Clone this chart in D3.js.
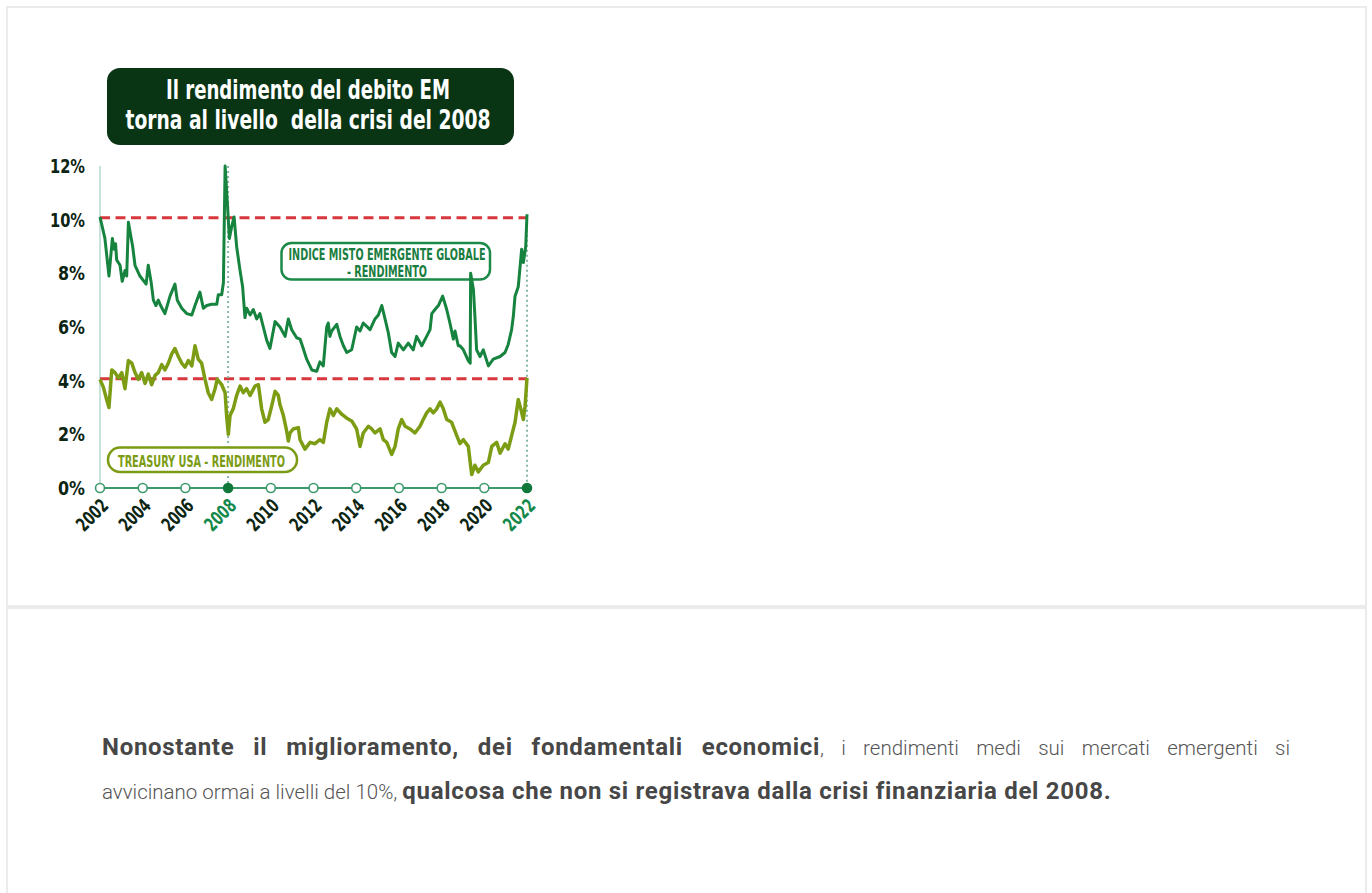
<!DOCTYPE html>
<html>
<head>
<meta charset="utf-8">
<script src="https://cdn.jsdelivr.net/npm/d3@7"></script>
<style>
  body { margin: 0; background: #fff; width: 1372px; height: 893px; overflow: hidden; position: relative; }
  #card { position: absolute; left: 6px; top: 6px; width: 1361px; height: 920px; border: 2px solid #ebebeb; border-bottom: none; box-sizing: border-box; }
  #sep { position: absolute; left: 8px; top: 605px; width: 1357px; height: 4px; background: #ebebeb; }
  .riga { position: absolute; left: 102px; font-family: Roboto, sans-serif; font-size: 20.5px; line-height: 44px; color: #555; font-weight: 300; }
  #riga1 { top: 725px; width: 1188px; text-align: justify; text-align-last: justify; }
  #riga2 { top: 769px; white-space: nowrap; }
  .riga b { font-weight: 700; font-size: 24px; letter-spacing: 0.7px; color: #474747; }
  svg { position: absolute; left: 0; top: 0; }
</style>
</head>
<body>
<div id="card"></div>
<div id="sep"></div>
<div class="riga" id="riga1"><b>Nonostante il miglioramento, dei fondamentali economici</b>, i rendimenti medi sui mercati emergenti si</div>
<div class="riga" id="riga2">avvicinano ormai a livelli del 10%, <b>qualcosa che non si registrava dalla crisi finanziaria del 2008.</b></div>
<script>
// dati
const titolo = ["Il rendimento del debito EM", "torna al livello  della crisi del 2008"];
const anni = [2002, 2004, 2006, 2008, 2010, 2012, 2014, 2016, 2018, 2020, 2022];
const anniEvidenziati = [2008, 2022];
const tickY = [0, 2, 4, 6, 8, 10, 12];
const livelliRif = [10, 4];
const etichettaEM = ["INDICE MISTO EMERGENTE GLOBALE", "- RENDIMENTO"];
const etichettaUS = "TREASURY USA - RENDIMENTO";

// indice misto emergente globale - rendimento (%)
const rendEM = [[2002.00,10.1],[2002.23,9.3],[2002.42,7.9],[2002.50,8.6],[2002.58,9.3],[2002.66,8.9],[2002.73,9.1],[2002.78,8.5],[2002.94,8.3],[2003.04,7.7],[2003.17,8.1],[2003.25,7.9],[2003.33,9.9],[2003.44,9.4],[2003.53,9.0],[2003.64,8.3],[2003.87,7.9],[2004.16,7.6],[2004.26,8.3],[2004.39,7.7],[2004.50,7.0],[2004.62,6.8],[2004.73,7.0],[2004.84,6.8],[2005.04,6.5],[2005.28,7.15],[2005.51,7.6],[2005.62,7.0],[2005.83,6.7],[2006.06,6.5],[2006.30,6.45],[2006.45,6.8],[2006.68,7.3],[2006.84,6.7],[2007.00,6.8],[2007.23,6.85],[2007.47,6.85],[2007.54,7.2],[2007.70,7.2],[2007.78,7.65],[2007.86,12.0],[2007.96,10.7],[2008.06,9.3],[2008.17,9.75],[2008.28,10.1],[2008.40,9.0],[2008.56,8.1],[2008.68,7.5],[2008.79,6.35],[2008.87,6.7],[2009.03,6.45],[2009.18,6.65],[2009.34,6.3],[2009.49,6.5],[2009.65,6.0],[2009.81,5.5],[2009.96,5.2],[2010.20,6.2],[2010.43,6.0],[2010.67,5.65],[2010.82,6.3],[2010.98,5.9],[2011.21,5.6],[2011.37,5.55],[2011.52,5.2],[2011.68,4.8],[2011.92,4.4],[2012.15,4.35],[2012.30,4.7],[2012.46,4.55],[2012.54,5.3],[2012.62,6.0],[2012.69,6.15],[2012.77,5.65],[2012.85,5.85],[2013.09,6.1],[2013.24,5.65],[2013.40,5.3],[2013.56,5.05],[2013.79,5.15],[2014.02,6.0],[2014.18,5.85],[2014.33,6.15],[2014.65,5.9],[2014.88,6.3],[2015.04,6.45],[2015.20,6.8],[2015.35,6.3],[2015.50,5.8],[2015.66,5.05],[2015.82,4.9],[2015.97,5.4],[2016.21,5.15],[2016.44,5.4],[2016.67,5.15],[2016.83,5.65],[2017.07,5.3],[2017.30,5.65],[2017.46,5.9],[2017.54,6.5],[2017.69,6.65],[2017.85,6.8],[2018.05,7.15],[2018.24,6.65],[2018.39,6.15],[2018.55,5.55],[2018.63,5.85],[2018.78,5.3],[2018.86,5.3],[2019.02,5.15],[2019.25,4.75],[2019.34,4.65],[2019.36,8.0],[2019.49,7.4],[2019.56,6.4],[2019.64,5.15],[2019.80,4.9],[2019.95,5.15],[2020.19,4.55],[2020.42,4.8],[2020.74,4.9],[2020.97,5.05],[2021.12,5.35],[2021.28,5.9],[2021.36,6.4],[2021.44,7.15],[2021.59,7.5],[2021.75,8.9],[2021.83,8.4],[2021.94,9.0],[2022.00,10.2]];

// treasury USA - rendimento (%)
const rendUS = [[2002.00,4.05],[2002.16,3.75],[2002.31,3.3],[2002.42,3.0],[2002.55,4.4],[2002.70,4.3],[2002.86,4.1],[2003.02,4.3],[2003.17,3.7],[2003.33,4.75],[2003.49,4.65],[2003.64,4.3],[2003.79,4.05],[2003.95,4.3],[2004.11,3.9],[2004.26,4.25],[2004.42,3.85],[2004.58,4.2],[2004.73,4.3],[2004.89,4.6],[2005.04,4.4],[2005.20,4.65],[2005.36,5.0],[2005.51,5.2],[2005.67,4.9],[2005.83,4.65],[2005.98,4.5],[2006.14,4.75],[2006.30,4.55],[2006.45,5.3],[2006.60,4.8],[2006.76,4.65],[2006.92,4.05],[2007.07,3.55],[2007.23,3.3],[2007.39,3.7],[2007.49,4.05],[2007.70,3.85],[2007.86,3.55],[2007.93,2.7],[2008.01,2.0],[2008.09,2.7],[2008.24,2.95],[2008.40,3.45],[2008.56,3.8],[2008.71,3.55],[2008.87,3.7],[2009.03,3.45],[2009.26,3.8],[2009.42,3.85],[2009.57,2.95],[2009.73,2.45],[2009.88,2.55],[2010.04,3.05],[2010.20,3.6],[2010.35,3.45],[2010.43,3.1],[2010.59,2.7],[2010.75,2.1],[2010.82,1.75],[2010.90,2.05],[2011.05,2.2],[2011.29,2.25],[2011.37,1.8],[2011.60,1.45],[2011.84,1.7],[2012.07,1.65],[2012.30,1.8],[2012.46,1.7],[2012.62,2.45],[2012.77,2.95],[2012.93,2.7],[2013.09,2.95],[2013.32,2.75],[2013.56,2.6],[2013.79,2.5],[2014.02,2.2],[2014.18,1.55],[2014.33,2.05],[2014.57,2.3],[2014.73,2.2],[2014.88,2.05],[2015.12,2.2],[2015.27,1.8],[2015.43,1.7],[2015.66,1.25],[2015.82,1.55],[2015.97,2.2],[2016.13,2.55],[2016.29,2.3],[2016.52,2.2],[2016.75,2.05],[2016.99,2.3],[2017.14,2.55],[2017.30,2.8],[2017.46,2.95],[2017.61,2.8],[2017.77,2.95],[2017.93,3.2],[2018.08,2.95],[2018.24,2.55],[2018.47,2.45],[2018.71,1.95],[2018.86,1.65],[2019.02,1.8],[2019.25,1.55],[2019.41,0.5],[2019.56,0.85],[2019.72,0.6],[2019.95,0.85],[2020.19,0.95],[2020.35,1.55],[2020.58,1.7],[2020.74,1.3],[2020.97,1.65],[2021.12,1.45],[2021.28,1.95],[2021.44,2.45],[2021.59,3.3],[2021.71,2.95],[2021.83,2.55],[2021.91,3.05],[2022.00,4.1]];

const fontNarrow = "'Liberation Sans Narrow','DejaVu Sans Condensed',sans-serif";

let svg = d3.select('body').append('svg')
    .attr('width', 1372)
    .attr('height', 893)

let x = d3.scaleLinear().domain([2002, 2022]).range([100, 527]);
let y = d3.scaleLinear().domain([0, 12]).range([488, 166]);

// box titolo
svg.append('rect')
    .attr('x', 107).attr('y', 68)
    .attr('width', 407).attr('height', 77)
    .attr('rx', 13)
    .attr('fill', '#0a3514')

let larghTitolo = [284, 365];
svg.selectAll('text.titolo')
    .data(titolo)
    .enter().append('text')
    .attr('class', 'titolo')
    .attr('x', 308)
    .attr('y', (d, i) => 99 + i * 30)
    .attr('text-anchor', 'middle')
    .attr('textLength', (d, i) => larghTitolo[i])
    .attr('lengthAdjust', 'spacingAndGlyphs')
    .attr('font-family', fontNarrow)
    .attr('font-weight', 'bold')
    .attr('font-size', 27)
    .attr('fill', '#fff')
    .attr('xml:space', 'preserve')
    .text(d => d)

// asse y
svg.append('line')
    .attr('x1', 100).attr('x2', 100)
    .attr('y1', y(12)).attr('y2', y(0))
    .attr('stroke', '#b5d8cf')
    .attr('stroke-width', 1.5)

let assey = svg.append('g')
    .attr('transform', 'translate(100,0)')
    .call(d3.axisLeft(y).tickValues(tickY).tickSize(0).tickPadding(15).tickFormat(d => d + '%'))
assey.select('.domain').remove()
assey.selectAll('text')
    .attr('textLength', d => d >= 10 ? 35 : 27)
    .attr('lengthAdjust', 'spacingAndGlyphs')
    .attr('font-family', fontNarrow)
    .attr('font-weight', 'bold')
    .attr('font-size', 20)
    .attr('fill', '#0c2412')

// linee tratteggiate rosse
svg.selectAll('line.rif')
    .data(livelliRif)
    .enter().append('line')
    .attr('class', 'rif')
    .attr('x1', x(2002)).attr('x2', x(2022))
    .attr('y1', d => y(d) - 2).attr('y2', d => y(d) - 2)
    .attr('stroke', '#d8383d')
    .attr('stroke-width', 3)
    .attr('stroke-dasharray', '10,5.5')

// linee verticali punteggiate
let verticali = [{ anno: 2008, top: 12 }, { anno: 2022, top: 10 }];
svg.selectAll('line.vert')
    .data(verticali)
    .enter().append('line')
    .attr('class', 'vert')
    .attr('x1', d => x(d.anno)).attr('x2', d => x(d.anno))
    .attr('y1', d => y(d.top)).attr('y2', y(0))
    .attr('stroke', '#8ab8a6')
    .attr('stroke-width', 2)
    .attr('stroke-dasharray', '2,3')

// etichette serie
svg.append('rect')
    .attr('x', 281.5).attr('y', 243)
    .attr('width', 208.5).attr('height', 36.5)
    .attr('rx', 10)
    .attr('fill', '#fff')
    .attr('stroke', '#1c8a48')
    .attr('stroke-width', 2.5)
let larghEM = [197, 80];
svg.selectAll('text.labEM')
    .data(etichettaEM)
    .enter().append('text')
    .attr('class', 'labEM')
    .attr('x', 387)
    .attr('y', (d, i) => 260 + i * 17)
    .attr('text-anchor', 'middle')
    .attr('textLength', (d, i) => larghEM[i])
    .attr('lengthAdjust', 'spacingAndGlyphs')
    .attr('font-family', fontNarrow)
    .attr('font-weight', 'bold')
    .attr('font-size', 16.5)
    .attr('fill', '#1a7d40')
    .text(d => d)

svg.append('rect')
    .attr('x', 108).attr('y', 447.5)
    .attr('width', 189).attr('height', 24.5)
    .attr('rx', 12)
    .attr('fill', '#fff')
    .attr('stroke', '#7b9b14')
    .attr('stroke-width', 2.5)
svg.append('text')
    .attr('x', 201.5).attr('y', 466.5)
    .attr('text-anchor', 'middle')
    .attr('textLength', 167)
    .attr('lengthAdjust', 'spacingAndGlyphs')
    .attr('font-family', fontNarrow)
    .attr('font-weight', 'bold')
    .attr('font-size', 16.5)
    .attr('fill', '#7b9b14')
    .text(etichettaUS)

// linee dati
let linea = d3.line()
    .x(d => x(d[0]))
    .y(d => y(d[1]))

svg.append('path')
    .datum(rendUS)
    .attr('d', linea)
    .attr('fill', 'none')
    .attr('stroke', '#7c9c14')
    .attr('stroke-width', 3.5)
    .attr('stroke-linejoin', 'round')

svg.append('path')
    .datum(rendEM)
    .attr('d', linea)
    .attr('fill', 'none')
    .attr('stroke', '#16843f')
    .attr('stroke-width', 3)
    .attr('stroke-linejoin', 'round')

// asse x con cerchi
svg.append('line')
    .attr('x1', x(2002)).attr('x2', x(2022))
    .attr('y1', y(0)).attr('y2', y(0))
    .attr('stroke', '#3d9a6c')
    .attr('stroke-width', 2)

let assex = svg.append('g')
    .attr('transform', 'translate(0,' + y(0) + ')')
    .call(d3.axisBottom(x).tickValues(anni).tickSize(0).tickFormat(d3.format('d')))
assex.select('.domain').remove()
assex.selectAll('text')
    .attr('y', 0).attr('dy', 0)
    .attr('transform', 'translate(9,19) rotate(-45)')
    .attr('text-anchor', 'end')
    .attr('textLength', 36)
    .attr('lengthAdjust', 'spacingAndGlyphs')
    .attr('font-family', fontNarrow)
    .attr('font-weight', 'bold')
    .attr('font-size', 19)
    .attr('fill', d => anniEvidenziati.includes(d) ? '#13884a' : '#0c2412')

svg.selectAll('circle.tick')
    .data(anni)
    .enter().append('circle')
    .attr('class', 'tick')
    .attr('cx', d => x(d))
    .attr('cy', y(0))
    .attr('r', 4.5)
    .attr('fill', d => anniEvidenziati.includes(d) ? '#11783b' : '#fff')
    .attr('stroke', d => anniEvidenziati.includes(d) ? '#11783b' : '#3d9a6c')
    .attr('stroke-width', 1.6)
</script>
</body>
</html>
